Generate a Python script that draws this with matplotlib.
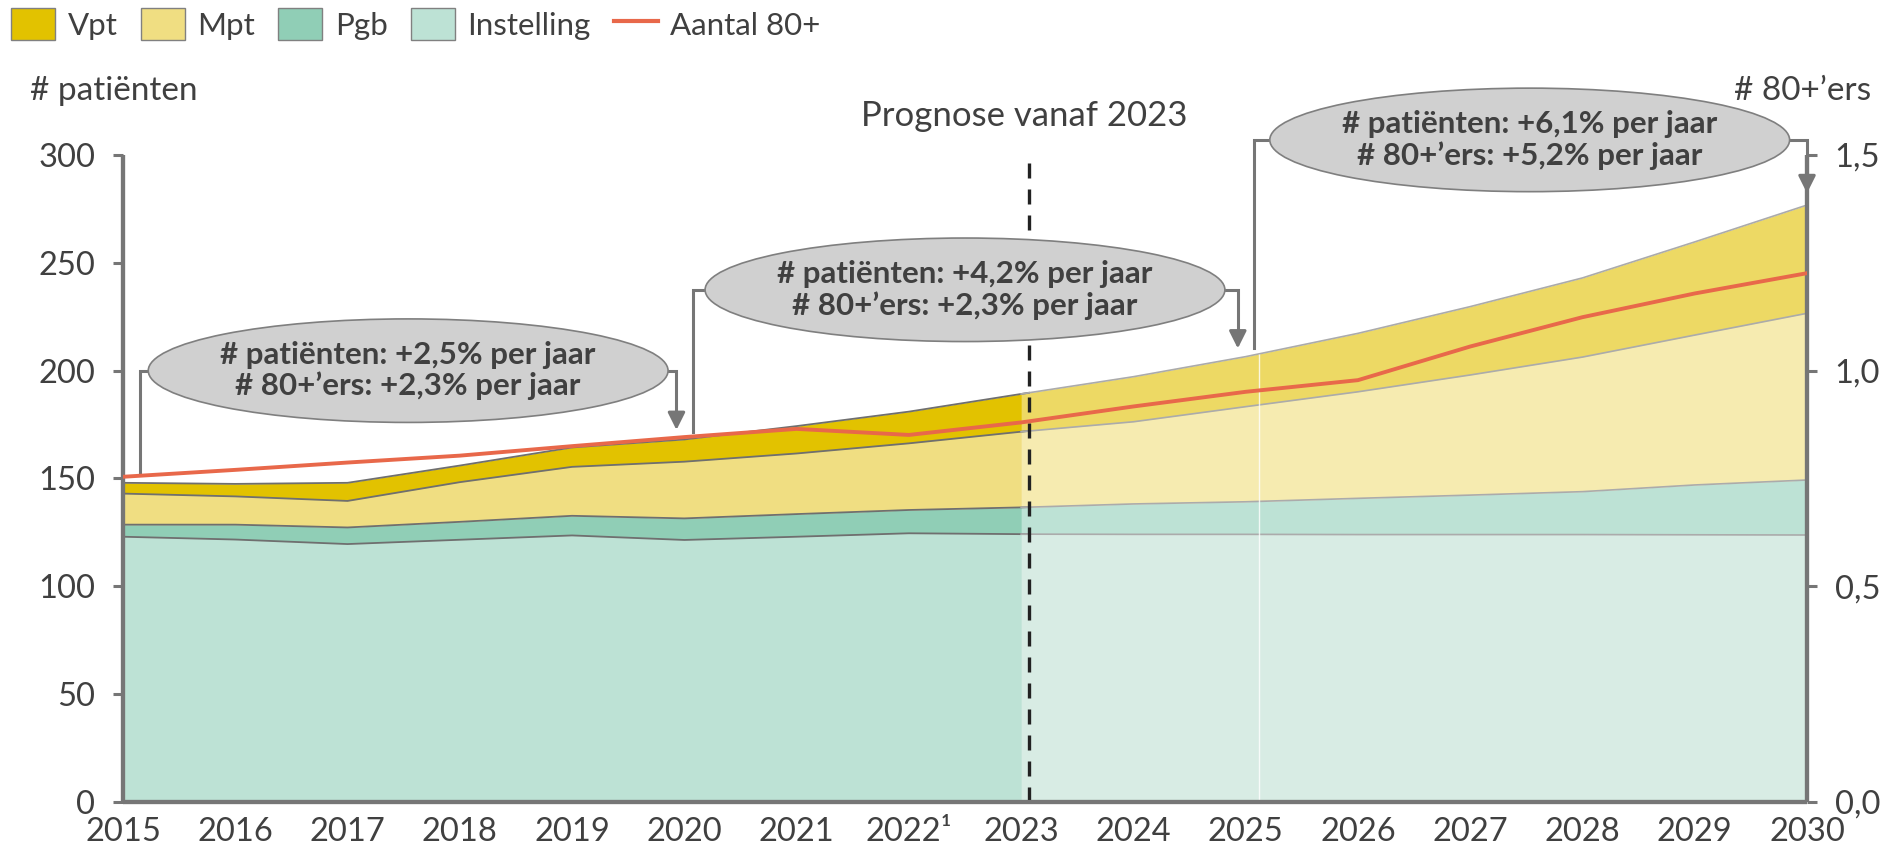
import numpy as np
import matplotlib
matplotlib.use('Agg')
import matplotlib.pyplot as plt
from matplotlib.patches import Ellipse, Patch
from matplotlib.lines import Line2D

plt.rcParams['font.family'] = ['Lato', 'DejaVu Sans']

years = np.arange(2015, 2031)
tick_labels = ['2015', '2016', '2017', '2018', '2019', '2020', '2021', '2022¹',
               '2023', '2024', '2025', '2026', '2027', '2028', '2029', '2030']

# patients (x1000), stacked from bottom to top
instelling = [123.0, 121.7, 119.6, 121.6, 123.6, 121.5, 123.0, 124.6,
              124.2, 124.1, 124.1, 124.0, 124.0, 124.0, 123.9, 123.8]
pgb = [5.6, 6.9, 7.7, 8.3, 9.1, 10.0, 10.5, 10.8,
       12.4, 14.1, 15.1, 16.8, 18.3, 19.9, 23.1, 25.5]
mpt = [14.4, 13.1, 12.3, 18.4, 22.7, 26.3, 28.1, 30.9,
       35.1, 38.1, 44.1, 49.4, 55.7, 62.4, 69.5, 77.3]
vpt = [5.0, 5.8, 8.4, 7.7, 9.0, 10.3, 12.7, 14.7,
       17.5, 20.9, 23.2, 27.1, 31.7, 36.7, 43.2, 50.2]

# number of 80+ (millions), right axis
aantal_80 = [0.754, 0.770, 0.787, 0.803, 0.825, 0.846, 0.865, 0.851,
             0.880, 0.917, 0.951, 0.978, 1.056, 1.124, 1.179, 1.226]

series_names = ['Instelling', 'Pgb', 'Mpt', 'Vpt']
hist_colors = ['#BDE2D5', '#90CEB6', '#F0DE82', '#E2C200']
fut_colors = ['#D8ECE4', '#BDE2D5', '#F6EBB0', '#EDD964']

growth_texts = ['# patiënten: +2,5% per jaar\n# 80+\u2019ers: +2,3% per jaar',
                '# patiënten: +4,2% per jaar\n# 80+\u2019ers: +2,3% per jaar',
                '# patiënten: +6,1% per jaar\n# 80+\u2019ers: +5,2% per jaar']

split = 2023.07
grey = '#767676'
txt = '#404040'

fig = plt.figure(figsize=(18.98, 8.5), dpi=100)
ax = fig.add_axes([123/1898, 48/850, 1684/1898, 647/850])
ax2 = ax.twinx()

tops = np.cumsum([instelling, pgb, mpt, vpt], axis=0)
bottoms = np.vstack([np.zeros(len(years)), tops[:-1]])

xh = np.append(years[years <= 2023], split)
xf = np.insert(years[years > 2023], 0, split)
for i in range(4):
    bh = np.interp(xh, years, bottoms[i]); th = np.interp(xh, years, tops[i])
    bf = np.interp(xf, years, bottoms[i]); tf = np.interp(xf, years, tops[i])
    ax.fill_between(xh, bh, th, color=hist_colors[i], lw=0, zorder=1)
    ax.fill_between(xf, bf, tf, color=fut_colors[i], lw=0, zorder=1)
    ax.plot(xh, th, color='#6F6F6F', lw=1.3, zorder=2)
    ax.plot(xf, tf, color='#ABABAB', lw=1.2, zorder=2)

# seam in the forecast
ax.vlines(2025.12, 0, np.interp(2025.12, years, tops[-1]), color='white', lw=1, alpha=0.8, zorder=2)

ax.vlines(split, 0, 300, color='#222222', lw=2.4, linestyles=(0, (4.5, 3.3)), zorder=5)
ax.text(2023.03, 318, 'Prognose vanaf 2023', ha='center', va='center', fontsize=25, color=txt)

ax.set_xlim(2015, 2030)
ax.set_ylim(0, 300)
ax.set_yticks(range(0, 301, 50))
ax.set_xticks(years)
ax.set_xticklabels(tick_labels)

ax2.plot(years, aantal_80, color='#E8684A', lw=2.8, zorder=6)
ax2.set_ylim(0, 1.5)
ax2.set_yticks([0, 0.5, 1.0, 1.5])
ax2.set_yticklabels(['0,0', '0,5', '1,0', '1,5'])

for a in (ax, ax2):
    a.spines['top'].set_visible(False)
    for s in ('left', 'right', 'bottom'):
        a.spines[s].set_color(grey)
        a.spines[s].set_linewidth(3)
        a.spines[s].set_capstyle('butt')
ax.tick_params(axis='y', length=7, width=2.2, color=grey, pad=13, labelsize=23.5, labelcolor=txt)
ax.tick_params(axis='x', length=0, pad=11, labelsize=23.5, labelcolor=txt)
ax2.tick_params(axis='y', length=7, width=2.2, color=grey, pad=13, labelsize=23.5, labelcolor=txt)

# growth ellipses with brackets
ell_x = [2017.54, 2022.50, 2027.53]
ell_y = [200, 237.5, 307]
ell_w = 4.63
ell_h = 48
left_x = [2015.15, 2020.08, 2025.07]
left_from = [152.5, 171.7, 210.4]
right_x = [2019.93, 2024.93, 2030.0]
right_to = [172.5, 210.3, 282.3]
for i in range(3):
    e = Ellipse((ell_x[i], ell_y[i]), ell_w, ell_h, facecolor='#D0D0D0', edgecolor='#7F7F7F',
                lw=1.2, zorder=8, clip_on=False)
    ax.add_patch(e)
    ax.text(ell_x[i], ell_y[i], growth_texts[i], ha='center', va='center', fontsize=22.5,
            fontweight='bold', color=txt, linespacing=1.12, zorder=9, clip_on=False)
    ax.plot([left_x[i], left_x[i], ell_x[i] - ell_w / 2], [left_from[i], ell_y[i], ell_y[i]],
            color=grey, lw=2.2, zorder=7, clip_on=False, solid_joinstyle='miter')
    ax.plot([ell_x[i] + ell_w / 2, right_x[i], right_x[i]], [ell_y[i], ell_y[i], right_to[i] + 6],
            color=grey, lw=2.2, zorder=7, clip_on=False, solid_joinstyle='miter')
    ax.annotate('', xy=(right_x[i], right_to[i]), xytext=(right_x[i], right_to[i] + 8),
                arrowprops=dict(arrowstyle='-|>', color=grey, lw=2.2, mutation_scale=26,
                                shrinkA=0, shrinkB=0), zorder=7, annotation_clip=False)

fig.text(30/1898, 1 - 91/850, '# patiënten', ha='left', va='center', fontsize=24, color=txt)
fig.text(1871/1898, 1 - 91/850, '# 80+\u2019ers', ha='right', va='center', fontsize=24, color=txt)

handles = [Patch(facecolor=hist_colors[3], edgecolor='#808080', label='Vpt'),
           Patch(facecolor=hist_colors[2], edgecolor='#808080', label='Mpt'),
           Patch(facecolor=hist_colors[1], edgecolor='#808080', label='Pgb'),
           Patch(facecolor=hist_colors[0], edgecolor='#808080', label='Instelling'),
           Line2D([], [], color='#E8684A', lw=3, label='Aantal 80+')]
fig.legend(handles=handles, loc='center left', bbox_to_anchor=(0.006, 1 - 24/850), ncol=5,
           fontsize=22.5, frameon=False, handlelength=1.4, handleheight=1.2, handletextpad=0.4,
           columnspacing=0.75, borderpad=0, borderaxespad=0, labelcolor=txt)

fig.savefig('out.png', dpi=100)
